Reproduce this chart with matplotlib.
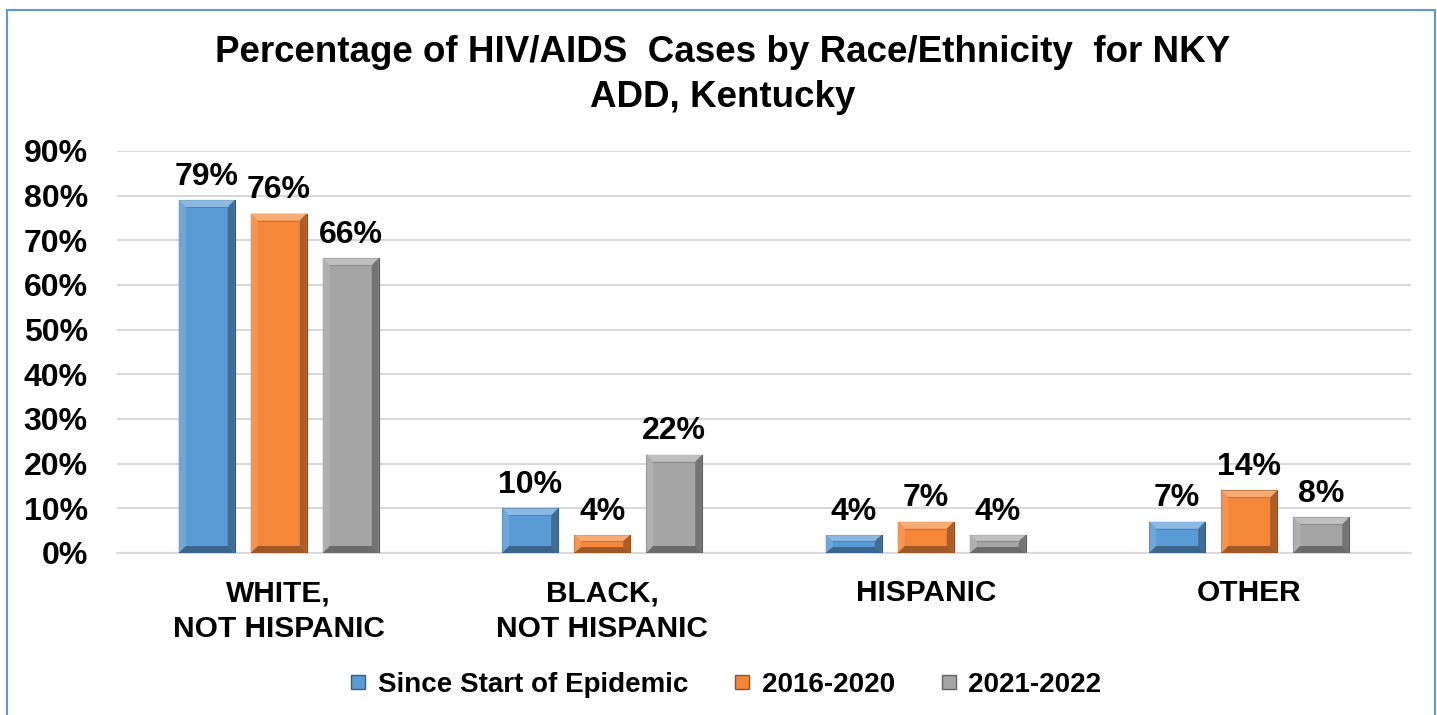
import matplotlib
matplotlib.use("Agg")
import matplotlib.pyplot as plt
from matplotlib.patches import Polygon, Rectangle
from matplotlib.lines import Line2D
from matplotlib.colors import to_rgb
import numpy as np

plt.rcParams['font.family'] = ['Liberation Sans', 'DejaVu Sans']

# ---- data ----
categories = ["WHITE,\nNOT HISPANIC", "BLACK,\nNOT HISPANIC", "HISPANIC", "OTHER"]
series_names = ["Since Start of Epidemic", "2016-2020", "2021-2022"]
since_start = [79, 10, 4, 7]
y2016_2020 = [76, 4, 7, 14]
y2021_2022 = [66, 22, 4, 8]
yticks = [0, 10, 20, 30, 40, 50, 60, 70, 80, 90]
title = "Percentage of HIV/AIDS  Cases by Race/Ethnicity  for NKY\nADD, Kentucky"

colors = ["#5B9BD5", "#F4873A", "#A5A5A5"]

W, H = 1437, 715
fig = plt.figure(figsize=(W / 100, H / 100), dpi=100)
ax_l, ax_r, ax_t, ax_b = 117, 1411, 151, 553
ax = fig.add_axes([ax_l / W, 1 - ax_b / H, (ax_r - ax_l) / W, (ax_b - ax_t) / H])

x = np.arange(len(categories))
offset = 0.2226
width = 0.173
all_series = [since_start, y2016_2020, y2021_2022]

ax.set_xlim(-0.5, len(categories) - 0.5)
ax.set_ylim(0, 90)

def mix(c, other, t):
    c = np.array(to_rgb(c)); o = np.array(to_rgb(other))
    return tuple(c * (1 - t) + o * t)

px_x = (len(categories)) / (ax_r - ax_l)
px_y = 90 / (ax_b - ax_t)
bx = 7 * px_x
by = 7 * px_y

for i, (vals, col) in enumerate(zip(all_series, colors)):
    bars = ax.bar(x + (i - 1) * offset, vals, width, color=col, zorder=3,
                  edgecolor=mix(col, "black", 0.45), linewidth=0.8)
    for b in bars:
        x0 = b.get_x(); x1 = x0 + b.get_width(); h = b.get_height()
        byy = min(by, h / 3)
        top = Polygon([(x0, h), (x1, h), (x1 - bx, h - byy), (x0 + bx, h - byy)],
                      closed=True, facecolor=mix(col, "white", 0.3), edgecolor='none', zorder=4)
        left = Polygon([(x0, 0), (x0, h), (x0 + bx, h - byy), (x0 + bx, byy)],
                       closed=True, facecolor=mix(col, "white", 0.12), edgecolor='none', zorder=4)
        right = Polygon([(x1, 0), (x1, h), (x1 - bx, h - byy), (x1 - bx, byy)],
                        closed=True, facecolor=mix(col, "black", 0.3), edgecolor='none', zorder=4)
        bot = Polygon([(x0, 0), (x1, 0), (x1 - bx, byy), (x0 + bx, byy)],
                      closed=True, facecolor=mix(col, "black", 0.35), edgecolor='none', zorder=4)
        for p in (top, left, right, bot):
            ax.add_patch(p)
        ax.plot([x0 + bx, x1 - bx], [h - byy, h - byy], color=mix(col, "black", 0.15), lw=0.8, zorder=5)
        ax.annotate(f"{int(h)}%", (b.get_x() + b.get_width() / 2, h), xytext=(0, 6),
                    textcoords="offset points", ha="center", va="bottom",
                    fontsize=23, fontweight="bold", color="black", zorder=6)

ax.set_yticks(yticks)
ax.set_yticklabels([f"{t}%" for t in yticks])
ax.set_xticks(x)
ax.set_xticklabels(categories, linespacing=1.35)
ax.tick_params(axis='y', length=0, pad=21, labelsize=23)
ax.tick_params(axis='x', length=0, pad=19, labelsize=21.5)
for lab in ax.get_yticklabels() + ax.get_xticklabels():
    lab.set_fontweight("bold")
ax.yaxis.grid(True, color="#D9D9D9", linewidth=1.5, zorder=0)
ax.set_axisbelow(True)
for s in ["top", "right", "left"]:
    ax.spines[s].set_visible(False)
ax.spines["bottom"].set_color("#D9D9D9")
ax.spines["bottom"].set_linewidth(1.5)

fig.text(0.503, 1 - 35 / H, title, ha="center", va="top", fontsize=26.5,
         fontweight="bold", linespacing=1.38)

handles = [Line2D([], [], linestyle='none', marker='s', markersize=10,
                  markerfacecolor=c, markeredgecolor=mix(c, "black", 0.4), markeredgewidth=1)
           for c in colors]
fig.legend(handles, series_names, loc="center", bbox_to_anchor=(725 / W, 1 - 685 / H),
           ncol=3, frameon=False, prop={"size": 20, "weight": "bold"},
           handlelength=0.7, handletextpad=0.35, columnspacing=1.6)

fig.patches.append(Rectangle((7 / W, -0.02), (1435 - 7) / W, (H - 10) / H + 0.02,
                             transform=fig.transFigure, fill=False,
                             edgecolor="#5B9BD5", linewidth=1.5))

fig.savefig("out.png", dpi=100)
